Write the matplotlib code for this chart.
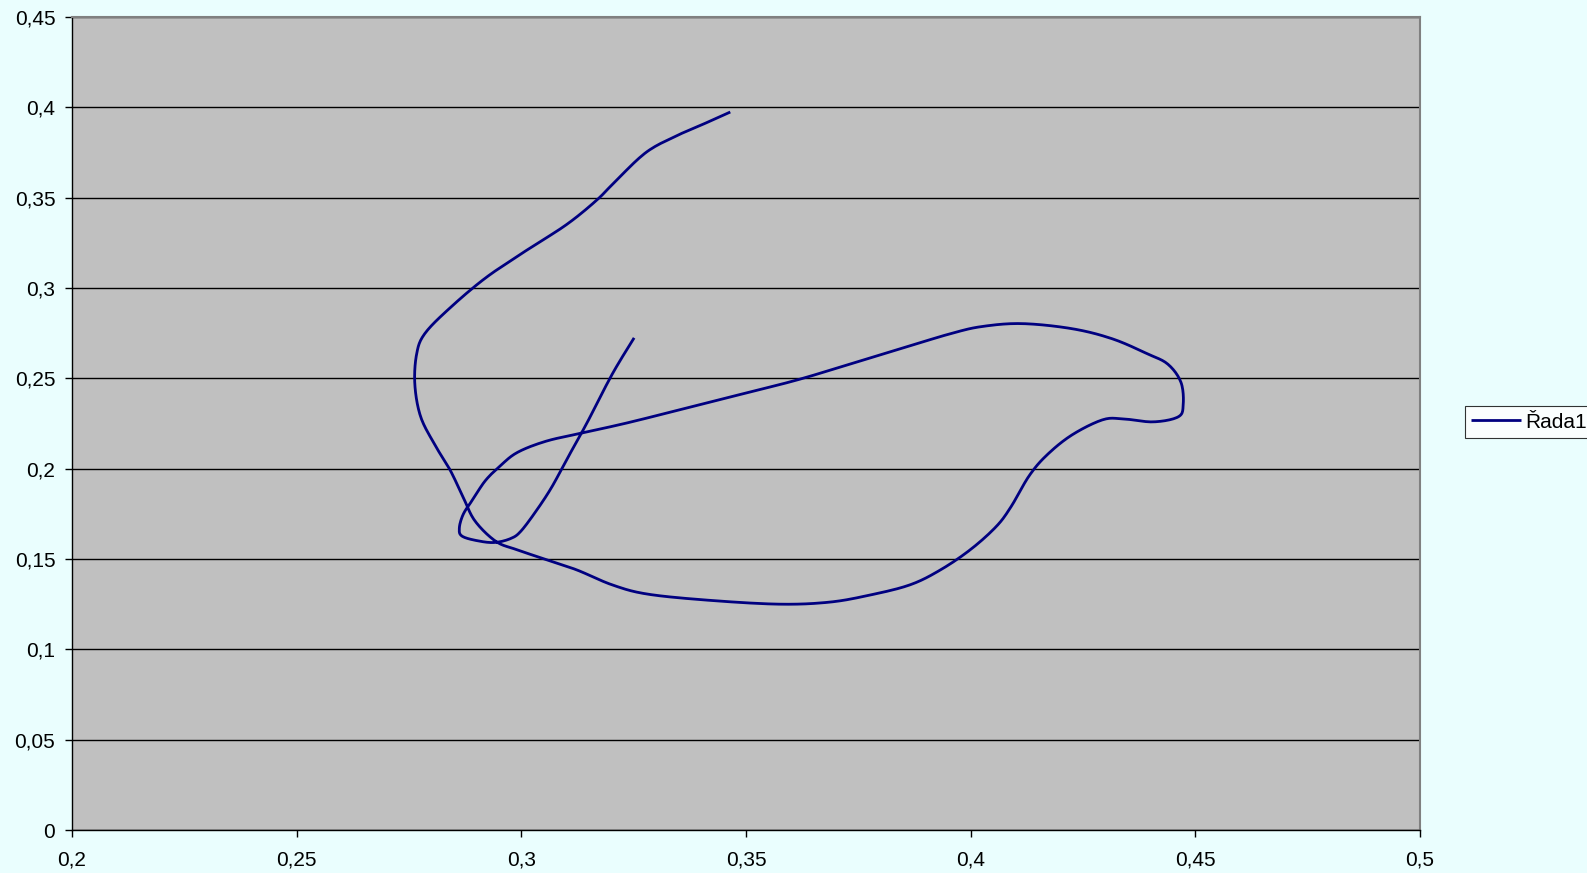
import matplotlib
matplotlib.use("Agg")
import matplotlib.pyplot as plt
import numpy as np
from matplotlib.ticker import MultipleLocator, FuncFormatter

plt.rcParams['font.family'] = ['Liberation Sans', 'DejaVu Sans']

# trajectory points (x, y) of series "Řada1"
x_vals = [0.3465, 0.3415, 0.3352, 0.3280, 0.3213, 0.3168, 0.3100, 0.3010, 0.2920, 0.2840,
          0.2785, 0.2767, 0.2763, 0.2776, 0.2808, 0.2842, 0.2871, 0.2897, 0.2943, 0.2988,
          0.3055, 0.3123, 0.3202, 0.3280, 0.3415, 0.3573, 0.3685, 0.3775, 0.3865, 0.3933,
          0.4000, 0.4057, 0.4090, 0.4130, 0.4169, 0.4225, 0.4293, 0.4338, 0.4406, 0.4462,
          0.4473, 0.4468, 0.4439, 0.4394, 0.4315, 0.4225, 0.4113, 0.4023, 0.3955, 0.3865,
          0.3753, 0.3618, 0.3505, 0.3370, 0.3235, 0.3134, 0.3055, 0.2992, 0.2954, 0.2920,
          0.2893, 0.2871, 0.2862, 0.2869, 0.2909, 0.2943, 0.2977, 0.2999, 0.3033, 0.3067,
          0.3100, 0.3146, 0.3202, 0.3251]
y_vals = [0.3974, 0.3918, 0.3850, 0.3755, 0.3600, 0.3487, 0.3350, 0.3206, 0.3055, 0.2887,
          0.2747, 0.2635, 0.2466, 0.2287, 0.2130, 0.1990, 0.1839, 0.1710, 0.1598, 0.1553,
          0.1497, 0.1440, 0.1357, 0.1306, 0.1272, 0.1250, 0.1261, 0.1300, 0.1357, 0.1440,
          0.1553, 0.1680, 0.1790, 0.1960, 0.2074, 0.2186, 0.2270, 0.2276, 0.2259, 0.2287,
          0.2354, 0.2478, 0.2578, 0.2635, 0.2719, 0.2775, 0.2803, 0.2786, 0.2747, 0.2680,
          0.2595, 0.2494, 0.2422, 0.2337, 0.2253, 0.2197, 0.2152, 0.2091, 0.2018, 0.1934,
          0.1833, 0.1749, 0.1670, 0.1625, 0.1598, 0.1592, 0.1614, 0.1654, 0.1766, 0.1895,
          0.2046, 0.2253, 0.2522, 0.2724]
series_name = "Řada1"


def smooth_line(xs, ys, steps=12):
    # Catmull-Rom curve through the points, like a spreadsheet's smoothed line
    p = np.column_stack([xs, ys])
    p = np.vstack([p[0], p, p[-1]])
    t = np.linspace(0, 1, steps, endpoint=False)[:, None]
    out = []
    for i in range(1, len(p) - 2):
        p0, p1, p2, p3 = p[i - 1], p[i], p[i + 1], p[i + 2]
        seg = 0.5 * ((2 * p1) + (-p0 + p2) * t
                     + (2 * p0 - 5 * p1 + 4 * p2 - p3) * t ** 2
                     + (-p0 + 3 * p1 - 3 * p2 + p3) * t ** 3)
        out.append(seg)
    out.append(p[-2][None, :])
    out = np.vstack(out)
    return out[:, 0], out[:, 1]


bg = '#EAFEFE'
fig = plt.figure(figsize=(15.87, 8.73), dpi=100, facecolor=bg)
ax = fig.add_axes([72 / 1587, 1 - 830 / 873, (1420 - 72) / 1587, (830 - 17) / 873])
ax.set_facecolor('#C0C0C0')

sx, sy = smooth_line(x_vals, y_vals)
ax.plot(sx, sy, color='#000080', linewidth=2.0, label=series_name,
        solid_joinstyle='round', solid_capstyle='butt')

ax.set_xlim(0.2, 0.5)
ax.set_ylim(0, 0.45)
ax.xaxis.set_major_locator(MultipleLocator(0.05))
ax.yaxis.set_major_locator(MultipleLocator(0.05))

comma = FuncFormatter(lambda v, p: ('%g' % round(v, 3)).replace('.', ','))
ax.xaxis.set_major_formatter(comma)
ax.yaxis.set_major_formatter(comma)

ax.grid(axis='y', color='black', linewidth=1.0)
ax.set_axisbelow(True)
ax.tick_params(direction='out', length=5, width=1, labelsize=15, colors='black')
ax.tick_params(axis='x', pad=10)
ax.tick_params(axis='y', pad=7)

for side in ('top', 'right'):
    ax.spines[side].set_color('#808080')
    ax.spines[side].set_linewidth(1.5)
for side in ('left', 'bottom'):
    ax.spines[side].set_color('black')
    ax.spines[side].set_linewidth(1.0)

leg = fig.legend(loc='center left', bbox_to_anchor=(1465 / 1587, 1 - 422 / 873),
                 fontsize=15, frameon=True, fancybox=False, handlelength=2.4,
                 handletextpad=0.2, borderpad=0.3, borderaxespad=0)
leg.get_frame().set_edgecolor('black')
leg.get_frame().set_facecolor('white')
leg.get_frame().set_linewidth(0.8)

fig.savefig('out.png', dpi=100, facecolor=bg)
